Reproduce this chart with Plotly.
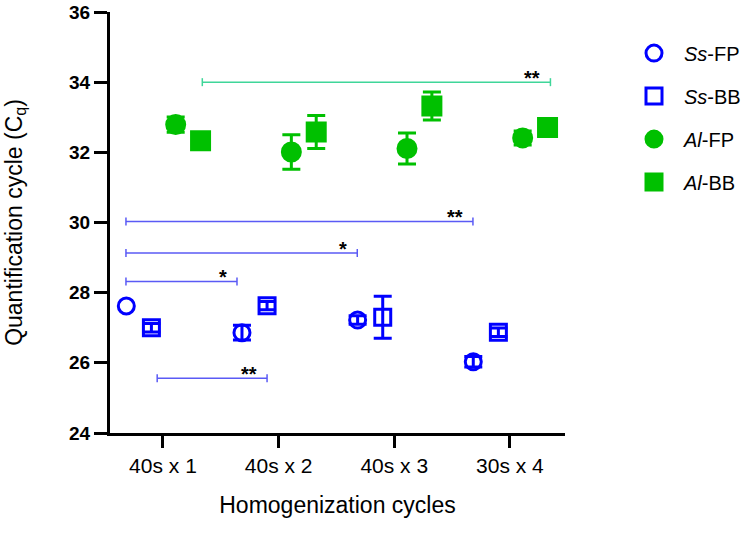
import plotly.graph_objects as go

# ---- data ----
categories = ["40s x 1", "40s x 2", "40s x 3", "30s x 4"]
series_names = ["<i>Ss</i>-FP", "<i>Ss</i>-BB", "<i>Al</i>-FP", "<i>Al</i>-BB"]

ss_fp = [27.62, 26.86, 27.22, 26.03]
ss_fp_err = [None, 0.21, 0.12, 0.15]
ss_bb = [27.00, 27.63, 27.30, 26.87]
ss_bb_err = [0.12, 0.12, 0.60, 0.12]
al_fp = [32.79, 32.01, 32.11, 32.41]
al_fp_err = [0.22, 0.49, 0.44, 0.20]
al_bb = [32.33, 32.58, 33.32, 32.71]
al_bb_err = [0.08, 0.47, 0.40, 0.10]

y_ticks = [24, 26, 28, 30, 32, 34, 36]

# significance brackets (x in category units, y in Cq)
sig_x0 = [0.34, -0.32, -0.32, -0.32, -0.05]
sig_x1 = [3.35, 2.68, 1.68, 0.64, 0.90]
sig_y = [34.0, 30.03, 29.13, 28.32, 25.56]
sig_label = ["**", "**", "*", "*", "**"]

# ---- styles ----
BLUE = "#0000FF"
GREEN = "#00C000"
sig_colors = ["#3FD699", "#5A5AF5", "#5A5AF5", "#5A5AF5", "#5A5AF5"]
offsets = [-0.317, -0.10, 0.11, 0.325]
styles = [
    dict(symbol="circle-open", color=BLUE, size=16),
    dict(symbol="square-open", color=BLUE, size=16),
    dict(symbol="circle", color=GREEN, size=18),
    dict(symbol="square", color=GREEN, size=18),
]
values = [ss_fp, ss_bb, al_fp, al_bb]
errors = [ss_fp_err, ss_bb_err, al_fp_err, al_bb_err]

FONT = "Liberation Sans, Arial, sans-serif"
W, H = 745, 534

fig = go.Figure()
# error bars (only where an error value exists)
for i, (vals, errs, st) in enumerate(zip(values, errors, styles)):
    idx = [k for k in range(len(categories)) if errs[k] is not None]
    fig.add_trace(go.Scatter(
        x=[k + offsets[i] for k in idx], y=[vals[k] for k in idx], mode="markers",
        marker=dict(size=1, color="rgba(0,0,0,0)"), showlegend=False, hoverinfo="skip",
        error_y=dict(type="data", array=[errs[k] for k in idx], visible=True,
                     color=st["color"], thickness=3, width=9),
        cliponaxis=False,
    ))
# markers
for i, (name, vals, st) in enumerate(zip(series_names, values, styles)):
    xs = [k + offsets[i] for k in range(len(categories))]
    fig.add_trace(go.Scatter(
        x=xs, y=vals, mode="markers", name=name, legendgroup=f"g{i}",
        marker=dict(symbol=st["symbol"], size=st["size"], color=st["color"],
                    line=dict(width=3, color=st["color"])),
        cliponaxis=False,
    ))

for x0, x1, y, lab, col in zip(sig_x0, sig_x1, sig_y, sig_label, sig_colors):
    fig.add_shape(type="line", xref="x", yref="y", x0=x0, x1=x1, y0=y, y1=y,
                  line=dict(color=col, width=1.5))
    for xe in (x0, x1):
        fig.add_shape(type="line", xref="x", yref="y", xsizemode="scaled",
                      ysizemode="pixel", yanchor=y, x0=xe, x1=xe, y0=-4, y1=4,
                      line=dict(color=col, width=1.5))
    fig.add_annotation(x=x1, y=y, xref="x", yref="y", text=f"<b>{lab}</b>",
                       showarrow=False, xanchor="right", yanchor="bottom",
                       xshift=-8, yshift=-9, font=dict(size=20, color="black", family=FONT))

fig.update_layout(
    width=W, height=H,
    margin=dict(l=110, r=180, t=12, b=101, autoexpand=False),
    paper_bgcolor="white", plot_bgcolor="white",
    font=dict(family=FONT, color="black"),
    showlegend=True,
    legend=dict(xref="container", yref="container", x=624 / W, y=1 - 33.6 / H,
                xanchor="left", yanchor="top", itemwidth=50,
                font=dict(size=20, family=FONT), tracegroupgap=14,
                bgcolor="rgba(0,0,0,0)"),
    xaxis=dict(range=[-0.458, 3.476], tickmode="array", tickvals=list(range(len(categories))),
               ticktext=categories, showline=True, linecolor="black", linewidth=3,
               ticks="outside", ticklen=12, tickwidth=3, tickcolor="black",
               showgrid=False, zeroline=False, automargin=False,
               tickfont=dict(size=21, family=FONT),
               title=dict(text="Homogenization cycles", font=dict(size=23, family=FONT), standoff=21)),
    yaxis=dict(range=[24, 36], tickmode="array", tickvals=y_ticks,
               showline=True, linecolor="black", linewidth=3,
               ticks="outside", ticklen=13, tickwidth=3, tickcolor="black",
               showgrid=False, zeroline=False, automargin=False, ticklabeloverflow="allow",
               tickfont=dict(size=19, family=FONT, weight="bold"),
               title=dict(text="Quantification cycle (C<sub>q</sub>)", font=dict(size=23, family=FONT), standoff=41)),
)

fig.write_html("out.html", config={"displayModeBar": False},
               post_script="document.body.style.margin='0';document.body.style.padding='0';")
